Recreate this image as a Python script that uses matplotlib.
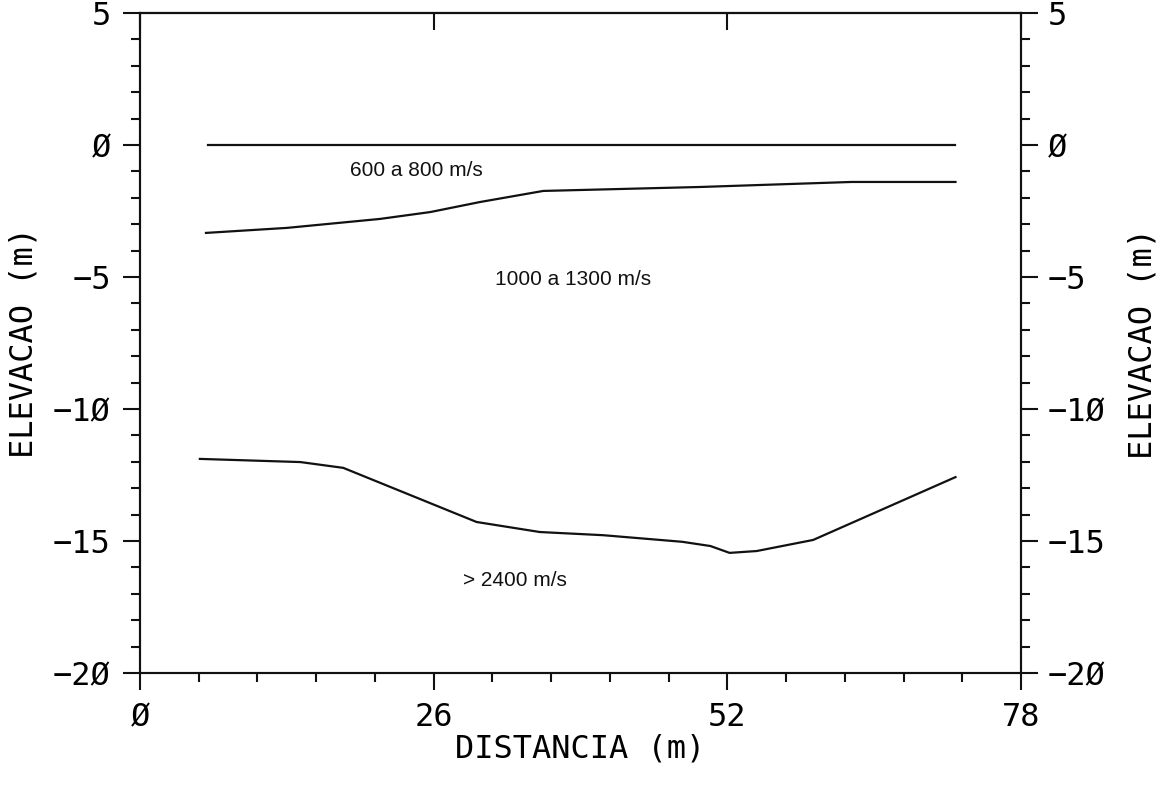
import numpy as np
import matplotlib.pyplot as plt
from matplotlib.ticker import MultipleLocator

# interface 1 (surface)
x_top = [6.0, 72.2]
y_top = [0.0, 0.0]

# interface 2
x_mid = [5.84, 13.0, 21.25, 25.7, 30.1, 35.7, 49.6, 63.0, 72.2]
y_mid = [-3.33, -3.14, -2.80, -2.54, -2.16, -1.74, -1.59, -1.40, -1.40]

# interface 3 (refractor)
x_bot = [5.3, 14.2, 18.0, 29.8, 35.4, 41.0, 48.0, 50.5, 52.2, 54.6, 59.6, 72.2]
y_bot = [-11.89, -12.01, -12.23, -14.28, -14.66, -14.78, -15.03, -15.19, -15.45, -15.38, -14.96, -12.58]

labels = ['600 a 800 m/s', '1000 a 1300 m/s', '> 2400 m/s']
label_x = [24.5, 38.3, 33.2]
label_y = [-0.98, -5.08, -16.5]

x_ticks = [0, 26, 52, 78]
y_ticks = [5, 0, -5, -10, -15, -20]

mono = 'DejaVu Sans Mono'
fs = 23
ink = '#111111'

def fmt(v):
	return str(v).replace('0', 'Ø').replace('-', '\u2212')

fig = plt.figure(figsize=(11.64, 7.85), dpi=100)
ax = fig.add_axes([140/1164, 1-673/785, 881/1164, 660/785])

ax.plot(x_top, y_top, color=ink, lw=1.6)
ax.plot(x_mid, y_mid, color=ink, lw=1.6)
ax.plot(x_bot, y_bot, color=ink, lw=1.6)

for t, tx, ty in zip(labels, label_x, label_y):
	ax.text(tx, ty, t, ha='center', va='center', fontsize=15, family='Liberation Sans', color=ink)

ax.set_xlim(0, 78)
ax.set_ylim(-20, 5)
ax.set_xticks(x_ticks)
ax.set_yticks(y_ticks)
ax.xaxis.set_minor_locator(MultipleLocator(26/5))
ax.yaxis.set_minor_locator(MultipleLocator(1))
ax.set_xticklabels([fmt(v) for v in x_ticks], family=mono, fontsize=fs)
ax.set_yticklabels([fmt(v) for v in y_ticks], family=mono, fontsize=fs)
ax.tick_params(which='major', direction='out', length=12, width=1.5, color=ink, pad=9)
ax.tick_params(which='minor', direction='out', length=6.5, width=1.5, color=ink)
for s in ax.spines.values():
	s.set_linewidth(1.5)
	s.set_color(ink)

ax.set_xlabel('DISTANCIA (m)', family=mono, fontsize=fs, labelpad=0)
ax.set_ylabel('ELEVACAO (m)', family=mono, fontsize=fs, labelpad=10)

# right axis
ax2 = ax.twinx()
ax2.set_ylim(-20, 5)
ax2.set_yticks(y_ticks)
ax2.yaxis.set_minor_locator(MultipleLocator(1))
ax2.set_yticklabels([fmt(v) for v in y_ticks], family=mono, fontsize=fs)
ax2.tick_params(which='major', direction='out', length=12, width=1.5, color=ink, pad=7)
ax2.tick_params(which='minor', direction='out', length=6.5, width=1.5, color=ink)
ax2.set_ylabel('ELEVACAO (m)', family=mono, fontsize=fs, labelpad=16)
for s in ax2.spines.values():
	s.set_linewidth(1.5)
	s.set_color(ink)

# top ticks, inward, no labels
top = ax.secondary_xaxis('top')
top.set_xticks(x_ticks)
top.tick_params(direction='in', length=12, width=1.5, color=ink, labeltop=False)
top.spines['top'].set_linewidth(1.5)

fig.savefig('out.png', dpi=100)
